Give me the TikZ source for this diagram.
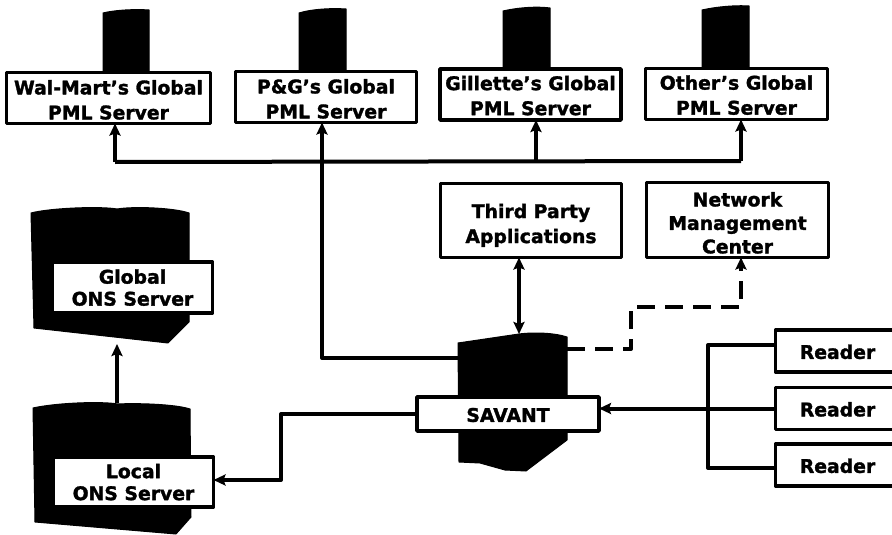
\documentclass[tikz,border=0pt]{standalone}
\usepackage{fontspec}
\setmainfont[BoldFeatures={FakeBold=1.6}]{DejaVu Sans}
\usetikzlibrary{arrows.meta}
\tikzset{
  x=1pt,y=-1pt,
  lbl/.style={draw=black,fill=white,line width=3.8pt,line join=round,inner sep=0pt,outer sep=0pt,align=center,
    font=\bfseries\fontsize{18.8}{25}\selectfont},
  disk/.style={fill=black,draw=black,line width=1pt,line join=round},
  wire/.style={draw=black,line width=4pt,line join=round},
  tip/.style={-{Stealth[length=12pt,width=11pt,inset=2pt]}},
  bothtip/.style={{Stealth[length=12pt,width=11pt,inset=2pt]}-{Stealth[length=12pt,width=11pt,inset=2pt]}}
}
\newcommand{\boxnode}[6]{\node[lbl,minimum width=#3 pt,minimum height=#4 pt] (#1) at (#2) {\rule{0pt}{#6pt}#5};}
\begin{document}
\begin{tikzpicture}
\useasboundingbox (0,0) rectangle (892,535);
% PML cylinders
\fill[disk] (103,13) .. controls (115,10) and (135,9) .. (149,10) -- (149,74) -- (103,74) -- cycle;
\fill[disk] (299,13) .. controls (312,9) and (332,8) .. (346,9) -- (346,74) -- (299,74) -- cycle;
\fill[disk] (503,11) .. controls (516,8) and (535,6) .. (550,8) -- (550,70) -- (503,70) -- cycle;
\fill[disk] (702,10) .. controls (715,7) and (735,5) .. (749,6) -- (749,70) -- (702,70) -- cycle;
% ONS cylinders
\fill[disk] (31,213) .. controls (50,208) and (100,206) .. (117,209) .. controls (135,206) and (175,208) .. (189,213) -- (189,322) -- (168,343) -- (34,328) -- cycle;
\fill[disk] (33,408) .. controls (55,403) and (100,401) .. (118,404) .. controls (135,403) and (175,404) .. (190,409) -- (191,517) -- (176,534) -- (35,522) -- cycle;
% Savant cylinder
\fill[disk] (458,343) -- (519,334) .. controls (535,332) and (555,333) .. (567,337) -- (567,440) -- (526,471) -- (505,470) -- (480,463) -- (459,462) -- cycle;
% Named ends on the drawn shapes
\coordinate (pb) at (322,358);
\coordinate (savw) at (458,358);
\coordinate (save) at (567,349);
\coordinate (savn) at (519,334);
\coordinate (localn) at (117,403);
\coordinate (globals) at (117,344);
% Boxes
\boxnode{wm}{108.5,98}{204}{51}{Wal-Mart's Global\\PML Server}{18}
\boxnode{pg}{326,97}{181}{51}{P\&G's Global\\PML Server}{18}
\boxnode{gi}{530.5,94.5}{181}{51}{Gillette's Global\\PML Server}{16.5}
\boxnode{ot}{736.5,94}{182}{51}{Other's Global\\PML Server}{16.5}
\boxnode{tp}{531,220.5}{181}{74}{Third Party\\Applications}{24}
\boxnode{nm}{737.5,220}{182}{75}{Network\\[-1.5pt]Management\\[-1.5pt]Center}{20}
\boxnode{gons}{132.5,287.5}{160}{51}{Global\\[-3pt]ONS Server}{14.5}
\boxnode{lons}{133.5,482}{160}{50}{Local\\[-3pt]ONS Server}{14.5}
\boxnode{sav}{508,414}{182}{34}{SAVANT}{16}
\boxnode{r1}{837.5,351}{124}{42}{Reader}{16}
\boxnode{r2}{837.5,408.5}{124}{42}{Reader}{16}
\boxnode{r3}{837.5,465}{124}{42}{Reader}{16}
% Bus coordinates
\coordinate (bl) at (115,162);
\coordinate (bm) at (536,161);
\coordinate (br) at (741,161);
\coordinate (wmin) at ([xshift=6.5pt]wm.south);
\coordinate (giin) at (bm |- gi.south);
\coordinate (otin) at (br |- ot.south);
\coordinate (pgin) at (pb |- pg.south);
\coordinate (tps) at (savn |- tp.south);
\coordinate (nms) at (br |- nm.south);
\coordinate (d1) at (631,349);
\coordinate (d2) at (631,307);
\coordinate (d3) at (741,307);
\coordinate (l1) at (281,414);
\coordinate (l2) at (281,480);
\coordinate (lin) at (l2 -| lons.east);
\coordinate (ra) at (708,345);
\coordinate (rc) at (708,468);
\coordinate (r1w) at (ra -| r1.west);
\coordinate (r3w) at (rc -| r3.west);
% Connectors
\draw[wire,tip] (bl) -- (wmin);
\draw[wire] (bl) -- (br);
\draw[wire,tip] (bm) -- (giin);
\draw[wire,tip] (br) -- (otin);
\draw[wire,tip] (savw) -- (pb) -- (pgin);
\draw[wire,bothtip] (tps) -- (savn);
\draw[wire,tip,dash pattern=on 18pt off 10pt] (save) -- (d1) -- (d2) -- (d3) -- (nms);
\draw[wire,tip] (sav.west |- l1) -- (l1) -- (l2) -- (lin);
\draw[wire,tip] (localn) -- (globals);
\draw[wire] (r1w) -- (ra) -- (rc) -- (r3w);
\draw[wire,tip] (r2.west) -- (sav.east |- r2.west);
\end{tikzpicture}
\end{document}
